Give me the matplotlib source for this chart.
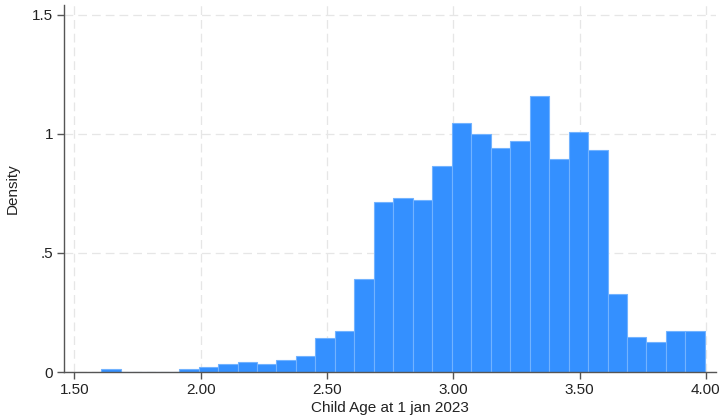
import matplotlib.pyplot as plt
import numpy as np

plt.rcParams['font.family'] = ['Liberation Sans', 'DejaVu Sans']

# histogram: 31 bins of equal width, density heights
bin_start = 1.606
bin_width = 0.0771
density = [0.011, 0, 0, 0, 0.011, 0.021, 0.032, 0.042, 0.032, 0.050,
           0.068, 0.144, 0.173, 0.391, 0.713, 0.732, 0.724, 0.864, 1.045, 0.998,
           0.941, 0.969, 1.159, 0.894, 1.008, 0.932, 0.326, 0.145, 0.125, 0.173,
           0.173]

xticks = [1.5, 2.0, 2.5, 3.0, 3.5, 4.0]
xtick_labels = ['1.50', '2.00', '2.50', '3.00', '3.50', '4.00']
yticks = [0, 0.5, 1, 1.5]
ytick_labels = ['0', '.5', '1', '1.5']

fig = plt.figure(figsize=(7.21, 4.19), dpi=100)
W, H = 721, 419
ax = fig.add_axes([64.3 / W, 1 - 372 / H, (716 - 64.3) / W, (372 - 5) / H])

lefts = bin_start + bin_width * np.arange(len(density))
ax.bar(lefts, density, width=bin_width, align='edge', color='#3490ff',
       edgecolor='#72b3ff', linewidth=0.8, zorder=2)

ax.set_xlim(1.46, 4.04)
ax.set_ylim(0, 1.542)
ax.set_xticks(xticks, xtick_labels)
ax.set_yticks(yticks, ytick_labels)
ax.grid(True, color='#e6e6e6', linestyle=(0, (7, 4)), linewidth=0.9, zorder=0)

for s in ['top', 'right']:
    ax.spines[s].set_visible(False)
for s in ['left', 'bottom']:
    ax.spines[s].set_color('#555555')
    ax.spines[s].set_linewidth(1.0)
ax.tick_params(direction='out', length=5, width=1.0, color='#555555',
               labelsize=11, labelcolor='#222222', pad=3)

ax.set_xlabel('Child Age at 1 jan 2023', fontsize=11, color='#222222', labelpad=3)
ax.set_ylabel('Density', fontsize=11, color='#222222')
ax.yaxis.set_label_coords(-0.068, 0.5)

fig.savefig('out.png', dpi=100)
